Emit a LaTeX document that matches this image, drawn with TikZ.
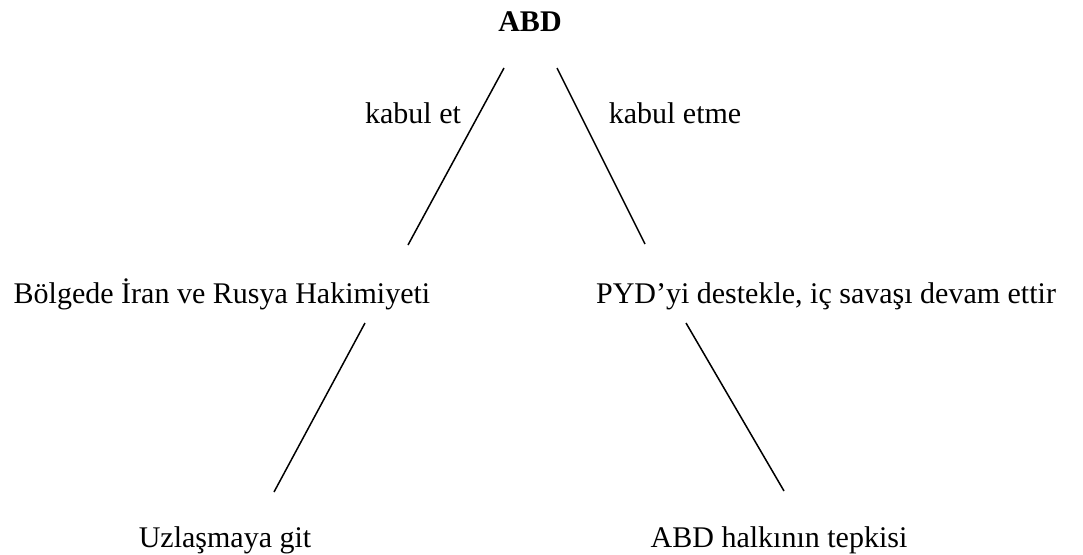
\documentclass[tikz,border=0pt]{standalone}
\usepackage{fontspec}
\setmainfont{Liberation Serif}
\usepackage{tikz}

\begin{document}
\begin{tikzpicture}[x=1pt,y=-1pt]
      \tikzstyle{every node}=[inner sep=0pt,anchor=base,font=\fontsize{30}{36}\selectfont]
      \tikzstyle{branch}=[line width=1.5pt]
      \useasboundingbox (0,0) rectangle (1083,554);
      \node (abd) at (530,31) {\textbf{ABD}};
      \node (kabul) at (413,123) {kabul et};
      \node (ret) at (675,123) {kabul etme};
      \node (bolge) at (222,303) {Bölgede İran ve Rusya Hakimiyeti};
      \node (pyd) at (826,303) {PYD’yi destekle, iç savaşı devam ettir};
      \node (uzlas) at (225,547) {Uzlaşmaya git};
      \node (tepki) at (779,547) {ABD halkının tepkisi};
      \coordinate (abdL) at (504,68);
      \coordinate (abdR) at (557,68);
      \coordinate (bolgeT) at (408,245);
      \coordinate (pydT) at (645,244);
      \coordinate (bolgeB) at (365,323);
      \coordinate (pydB) at (686,323);
      \coordinate (uzlasT) at (274,492);
      \coordinate (tepkiT) at (784,491);
      \draw[branch] (abdL) -- (bolgeT);
      \draw[branch] (abdR) -- (pydT);
      \draw[branch] (bolgeB) -- (uzlasT);
      \draw[branch] (pydB) -- (tepkiT);
\end{tikzpicture}
\end{document}
